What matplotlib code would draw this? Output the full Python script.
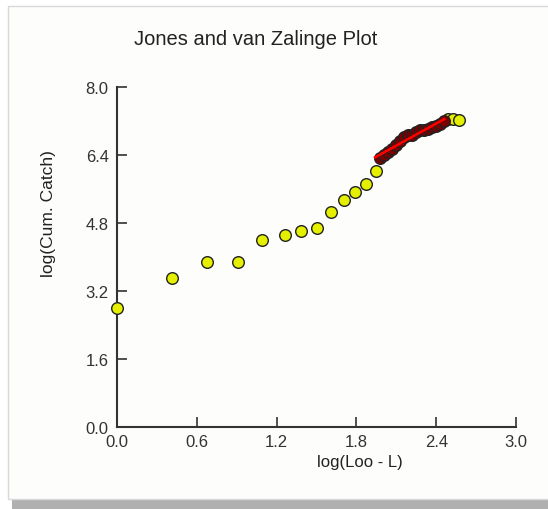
import numpy as np
import matplotlib.pyplot as plt
from matplotlib.patches import Rectangle

plt.rcParams['font.family'] = ['Liberation Sans', 'DejaVu Sans']

# yellow points (not used in the fit)
x_pts = [0.0, 0.41, 0.68, 0.91, 1.09, 1.26, 1.38, 1.50, 1.61, 1.71, 1.79, 1.87, 1.95, 2.49, 2.53, 2.57]
y_pts = [2.80, 3.50, 3.88, 3.88, 4.40, 4.52, 4.61, 4.68, 5.06, 5.34, 5.53, 5.72, 6.02, 7.24, 7.24, 7.22]

# dark red points used in the regression
x_fit = [1.98, 2.01, 2.04, 2.07, 2.10, 2.13, 2.16, 2.19, 2.22, 2.25, 2.28, 2.31, 2.34, 2.37, 2.40, 2.43, 2.46]
y_fit = [6.32, 6.40, 6.46, 6.55, 6.64, 6.74, 6.82, 6.86, 6.88, 6.94, 7.00, 6.98, 7.02, 7.06, 7.08, 7.14, 7.20]

x_ticks = [0.0, 0.6, 1.2, 1.8, 2.4, 3.0]
y_ticks = [0.0, 1.6, 3.2, 4.8, 6.4, 8.0]

fig = plt.figure(figsize=(5.48, 5.10), dpi=100)

# panel with shadow
fig.patches.append(Rectangle((12 / 548, 0.0), 1.0, 1 - 12 / 510, transform=fig.transFigure,
                             facecolor='#b0b0b0', edgecolor='none', zorder=-20))
fig.patches.append(Rectangle((8 / 548, 10 / 510), 1.0, 1 - 17 / 510, transform=fig.transFigure,
                             facecolor='#fdfdfb', edgecolor='#d8d8d8', linewidth=1.0, zorder=-10))

ax = fig.add_axes([117 / 548, 1 - 428 / 510, (516 - 117) / 548, (428 - 88) / 510])
ax.set_facecolor('none')
ax.set_zorder(5)

ax.scatter(x_pts, y_pts, s=70, c='#e4f000', edgecolors='#222222', linewidths=1.0, zorder=3, clip_on=False)
ax.scatter(x_fit, y_fit, s=70, c='#7a0000', edgecolors='#222222', linewidths=1.0, zorder=3)

# regression line
b, a = np.polyfit(x_fit, y_fit, 1)
xl = np.array([min(x_fit) - 0.04, max(x_fit)])
ax.plot(xl, a + b * xl, color='#ff0000', linewidth=1.8, zorder=4)

ax.set_xlim(0, 3.0)
ax.set_ylim(0, 8.0)
ax.set_xticks(x_ticks)
ax.set_yticks(y_ticks)
ax.set_xticklabels(['%.1f' % t for t in x_ticks])
ax.set_yticklabels(['%.1f' % t for t in y_ticks])
ax.tick_params(direction='in', length=7, width=1.2, colors='#333333', labelsize=12, labelcolor='#333333')
ax.tick_params(axis='x', pad=5)
ax.tick_params(axis='y', pad=6)
for s in ['top', 'right']:
    ax.spines[s].set_visible(False)
for s in ['left', 'bottom']:
    ax.spines[s].set_linewidth(1.5)
    ax.spines[s].set_color('#333333')

fig.text(256 / 548, 1 - 40 / 510, 'Jones and van Zalinge Plot', ha='center', va='center',
         fontsize=14.5, color='#222222')
fig.text(360 / 548, 1 - 463 / 510, 'log(Loo - L)', ha='center', va='center', fontsize=12, color='#222222')
fig.text(49 / 548, 1 - 214 / 510, 'log(Cum. Catch)', ha='center', va='center', rotation=90,
         fontsize=12.5, color='#222222')

fig.savefig('out.png', dpi=100)
